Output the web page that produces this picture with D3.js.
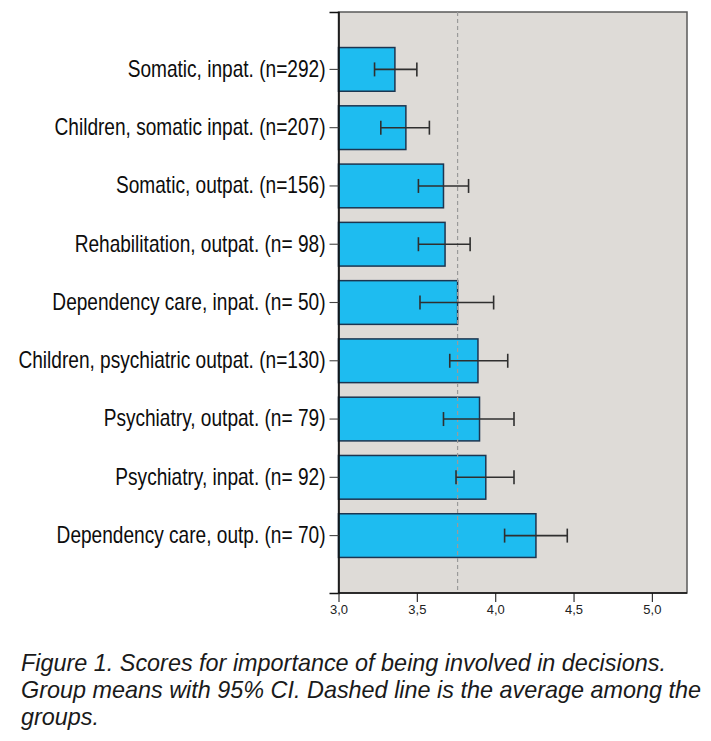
<!DOCTYPE html>
<html>
<head>
<meta charset="utf-8">
<script src="https://cdn.jsdelivr.net/npm/d3@7"></script>
<style>
  html, body { margin: 0; padding: 0; background: #fff; }
  svg { display: block; }
</style>
</head>
<body>
<script>
const categories = [
  "Somatic, inpat. (n=292)",
  "Children, somatic inpat. (n=207)",
  "Somatic, outpat. (n=156)",
  "Rehabilitation, outpat. (n= 98)",
  "Dependency care, inpat. (n= 50)",
  "Children, psychiatric outpat. (n=130)",
  "Psychiatry, outpat. (n= 79)",
  "Psychiatry, inpat. (n= 92)",
  "Dependency care, outp. (n= 70)"
];
const means   = [3.36, 3.43, 3.67, 3.68, 3.76, 3.89, 3.90, 3.94, 4.26];
const ciLow   = [3.23, 3.27, 3.51, 3.51, 3.52, 3.71, 3.67, 3.75, 4.06];
const ciHigh  = [3.50, 3.58, 3.83, 3.84, 3.99, 4.08, 4.12, 4.12, 4.46];
const groupAverage = 3.76;
const xTicks = [3.0, 3.5, 4.0, 4.5, 5.0];
const xTickLabels = ["3,0", "3,5", "4,0", "4,5", "5,0"];
const captionLines = [
  "Figure 1. Scores for importance of being involved in decisions.",
  "Group means with 95% CI. Dashed line is the average among the",
  "groups."
];

const W = 711, H = 741;
const plot = { left: 338.5, right: 687, top: 12, bottom: 593 };
const labelSqueeze = 0.83;

const svg = d3.select("body").append("svg").attr("width", W).attr("height", H);

const x = d3.scaleLinear().domain([3.0, 5.224]).range([plot.left, plot.right]);
const y = d3.scaleBand().domain(categories).range([plot.top, plot.bottom])
  .paddingInner(0.25).paddingOuter(0.61);

// plot background
svg.append("rect")
  .attr("x", plot.left).attr("y", plot.top)
  .attr("width", plot.right - plot.left).attr("height", plot.bottom - plot.top)
  .attr("fill", "#dedbd7").attr("stroke", "#5a5a5a").attr("stroke-width", 1.5);

// bars
svg.append("g").selectAll("rect").data(categories).join("rect")
  .attr("x", x(3.0))
  .attr("y", d => y(d))
  .attr("width", (d, i) => x(means[i]) - x(3.0))
  .attr("height", y.bandwidth())
  .attr("fill", "#1ebcf0")
  .attr("stroke", "#1c3550").attr("stroke-width", 1.5);

// dashed average line
svg.append("line")
  .attr("x1", x(groupAverage)).attr("x2", x(groupAverage))
  .attr("y1", plot.top).attr("y2", plot.bottom)
  .attr("stroke", "#9a9a9a").attr("stroke-width", 1.2)
  .attr("stroke-dasharray", "4,3");

// error bars
const eb = svg.append("g").attr("stroke", "#2f2f2f").attr("stroke-width", 1.6);
categories.forEach((c, i) => {
  const cy = y(c) + y.bandwidth() / 2;
  eb.append("line").attr("x1", x(ciLow[i])).attr("x2", x(ciHigh[i])).attr("y1", cy).attr("y2", cy);
  eb.append("line").attr("x1", x(ciLow[i])).attr("x2", x(ciLow[i])).attr("y1", cy - 7).attr("y2", cy + 7);
  eb.append("line").attr("x1", x(ciHigh[i])).attr("x2", x(ciHigh[i])).attr("y1", cy - 7).attr("y2", cy + 7);
});

// y axis
const yTickSize = 9, yTickPad = 4;
const yAxis = svg.append("g")
  .attr("transform", `translate(${plot.left},0)`)
  .call(d3.axisLeft(y).tickSize(yTickSize).tickPadding(yTickPad));
yAxis.select(".domain").attr("stroke", "#111").attr("stroke-width", 1.6);
yAxis.selectAll(".tick line").attr("stroke", "#444").attr("stroke-width", 1.1);
yAxis.selectAll(".tick text")
  .attr("fill", "#0d0d0d")
  .attr("x", -(yTickSize + yTickPad) / labelSqueeze)
  .attr("transform", `scale(${labelSqueeze},1)`)
  .style("font-family", "'Liberation Sans', Arial, sans-serif")
  .style("font-size", "23px");

// x axis
const xAxis = svg.append("g")
  .attr("transform", `translate(0,${plot.bottom})`)
  .call(d3.axisBottom(x).tickValues(xTicks).tickSize(9).tickPadding(3)
    .tickFormat((d, i) => xTickLabels[i]));
xAxis.select(".domain").remove();
svg.append("line").attr("x1", plot.left).attr("x2", plot.right)
  .attr("y1", plot.bottom).attr("y2", plot.bottom)
  .attr("stroke", "#111").attr("stroke-width", 1.6);
xAxis.selectAll(".tick line").attr("stroke", "#333").attr("stroke-width", 1.2);
xAxis.selectAll(".tick text")
  .attr("fill", "#222")
  .style("font-family", "'Liberation Sans', Arial, sans-serif")
  .style("font-size", "13px");

// caption
svg.append("g").selectAll("text").data(captionLines).join("text")
  .attr("x", 21)
  .attr("y", (d, i) => 671 + i * 27)
  .attr("fill", "#1a1a1a")
  .style("font-family", "'Liberation Sans', Arial, sans-serif")
  .style("font-style", "italic")
  .style("font-size", "23.4px")
  .text(d => d);
</script>
</body>
</html>
